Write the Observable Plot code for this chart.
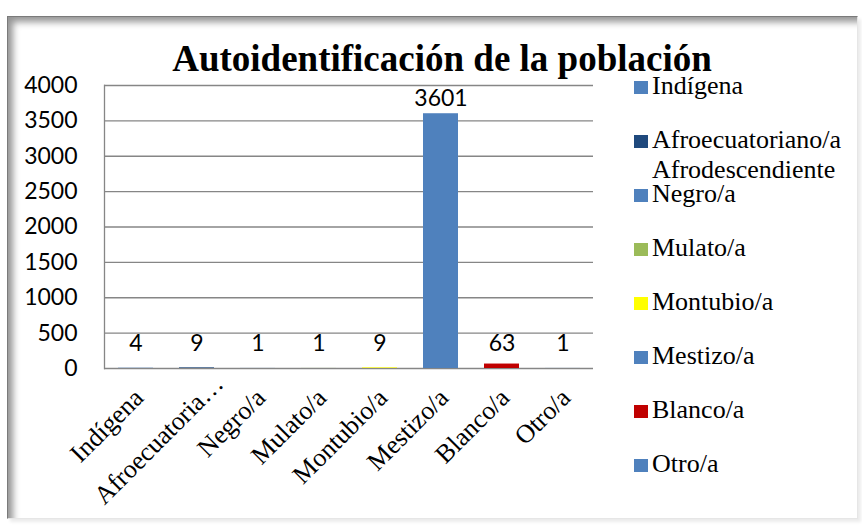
<!DOCTYPE html>
<html><head><meta charset="utf-8">
<script src="https://cdn.jsdelivr.net/npm/d3@7"></script>
<script src="https://cdn.jsdelivr.net/npm/@observablehq/plot@0.6"></script>
<style>
html,body{margin:0;padding:0;background:#fff;}
#wrap{position:relative;width:862px;height:527px;overflow:hidden;background:#fff;}
#frame{position:absolute;left:7px;top:16px;width:851px;height:503px;box-sizing:border-box;border-top:1px solid #7a7a7a;border-left:1px solid #7a7a7a;border-right:1px solid #e6e6e6;border-bottom:1px solid #e6e6e6;background:#fff;box-shadow:inset 8px 8px 7px -3px rgba(0,0,0,0.42), 3px 3px 3px rgba(0,0,0,0.08);}
#chart{position:absolute;left:0;top:0;}
#title{position:absolute;left:0;width:884px;top:39px;text-align:center;font-family:"Times New Roman","Liberation Serif","DejaVu Serif",serif;font-weight:bold;font-size:37px;line-height:40px;color:#000;white-space:nowrap;}
.lg{position:absolute;left:634px;font-family:"Times New Roman","Liberation Serif","DejaVu Serif",serif;font-size:26px;line-height:30px;color:#000;white-space:nowrap;}
.lg .sw{position:absolute;left:0;top:9.5px;width:14px;height:13px;}
.lg .tx{position:absolute;left:18px;top:0;}
</style></head>
<body>
<div id="wrap">
  <div id="frame"></div>
  <div id="chart"></div>
  <div id="title">Autoidentificación de la población</div>
  <div id="legend"></div>
</div>
<script>
const categories = ["Indígena","Afroecuatoriano/a Afrodescendiente","Negro/a","Mulato/a","Montubio/a","Mestizo/a","Blanco/a","Otro/a"];
const tickLabels = ["Indígena","Afroecuatoria…","Negro/a","Mulato/a","Montubio/a","Mestizo/a","Blanco/a","Otro/a"];
const legendLabels = ["Indígena","Afroecuatoriano/a<br>Afrodescendiente","Negro/a","Mulato/a","Montubio/a","Mestizo/a","Blanco/a","Otro/a"];
const values = [4, 9, 1, 1, 9, 3601, 63, 1];
const barColors = ["#4F81BD","#1F497D","#4F81BD","#9BBB59","#FFFF00","#4F81BD","#C00000","#4F81BD"];
const yTicks = [0,500,1000,1500,2000,2500,3000,3500,4000];

const data = categories.map((c,i)=>({cat:c, label:tickLabels[i], value:values[i], color:barColors[i]}));
const labelOf = new Map(categories.map((c,i)=>[c,tickLabels[i]]));
const serif = "'Times New Roman', 'Liberation Serif', 'DejaVu Serif', serif";
const truncated = categories.filter((c,i)=>tickLabels[i].endsWith("…"));
const regular = categories.filter((c,i)=>!tickLabels[i].endsWith("…"));

const xAxisStyle = {tickSize:0, tickPadding:25, tickRotate:-45, tickFormat: c => labelOf.get(c),
  fontFamily: serif, fontSize:26, fill:"#000"};

const plot = Plot.plot({
  width: 862, height: 527,
  marginLeft: 104, marginRight: 269, marginTop: 85, marginBottom: 159,
  style: {background:"transparent", overflow:"visible"},
  x: {domain: categories, paddingInner: 0.43, paddingOuter: 0.215, label: null},
  y: {domain: [0,4000], label: null},
  color: {type:"identity"},
  marks: [
    Plot.gridY(yTicks, {stroke:"#868686", strokeOpacity:1, strokeWidth:1.3}),
    Plot.frame({anchor:"left", stroke:"#868686", strokeWidth:1.3}),
    Plot.barY(data, {x:"cat", y:"value", fill:"color"}),
    Plot.text(data, {x:"cat", y: d => Math.max(d.value, 140), dy:-15, text: d => String(d.value),
      fontFamily:"Lato, sans-serif", fontSize:23, fill:"#000"}),
    Plot.axisY({ticks: yTicks, tickSize:0, tickPadding:27, tickFormat: d => String(d), fontFamily:"Lato, sans-serif", fontSize:23, fill:"#000"}),
    Plot.axisX({...xAxisStyle, ticks: regular, dx: 3}),
    Plot.axisX({...xAxisStyle, ticks: truncated, dx: 22, dy: -14})
  ]
});
document.getElementById("chart").appendChild(plot);

const lg = document.getElementById("legend");
legendLabels.forEach((t,i)=>{
  const d = document.createElement("div");
  d.className = "lg";
  d.style.top = (71.2 + i*54) + "px";
  d.innerHTML = `<div class="sw" style="background:${barColors[i]}"></div><div class="tx">${t}</div>`;
  lg.appendChild(d);
});
</script>
</body></html>
